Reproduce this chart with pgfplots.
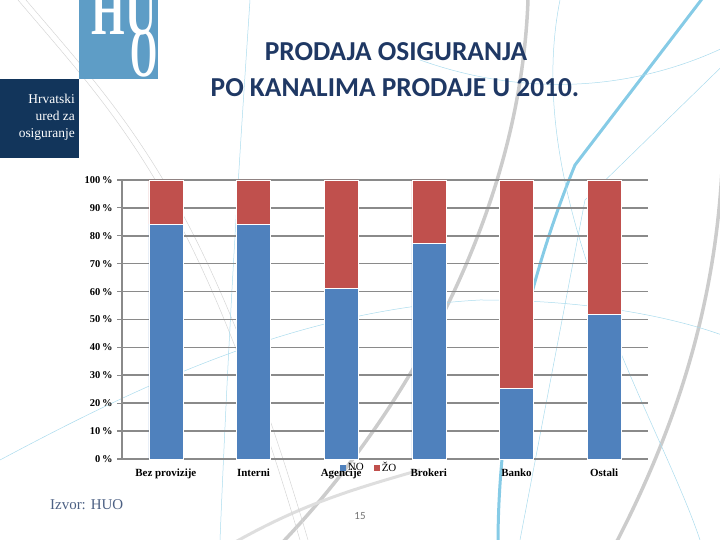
\documentclass[border=0pt]{standalone}
\usepackage{fontspec}
\setmainfont{Liberation Serif}
\newfontfamily\calibri{Carlito}
\usepackage{pgfplots}
\pgfplotsset{compat=1.18}

\definecolor{noblue}{HTML}{4F81BD}
\definecolor{zored}{HTML}{C0504D}
\definecolor{gridgray}{HTML}{8A8A8A}
\definecolor{titleblue}{HTML}{1F3864}
\definecolor{logolight}{HTML}{5E9DC6}
\definecolor{logonavy}{HTML}{12355B}
\definecolor{decoblue}{HTML}{86CBE6}

\begin{document}
\begin{tikzpicture}
\path[use as bounding box] (0,0) rectangle (720bp,540bp);
\clip (0,0) rectangle (720bp,540bp);

% background decoration, image coordinates (y downwards)
\begin{scope}[x=1bp,y=-1bp,shift={(0bp,540bp)}]
  \draw[black!20,line width=3.5bp] (280,545) .. controls (400,420) and (520,220) .. (528,0);
  \draw[black!20,line width=3.5bp] (615,545) .. controls (680,420) and (715,300) .. (722,170);
  \draw[black!13,line width=3bp] (230,545) .. controls (300,505) and (350,490) .. (420,470);
  \draw[decoblue,line width=3bp] (498,545) .. controls (498,430) and (520,300) .. (575,165) -- (705,-5);
  \draw[decoblue!70,line width=0.5bp] (560,0) .. controls (520,200) and (660,420) .. (700,540);
  \draw[decoblue!70,line width=0.5bp] (0,460) .. controls (150,380) and (300,310) .. (480,300) .. controls (600,300) and (680,320) .. (722,335);
  \draw[black!16,line width=0.5bp] (18,0) .. controls (120,120) and (200,200) .. (300,540);
  \draw[black!16,line width=0.5bp] (26,0) .. controls (128,120) and (208,200) .. (308,540);
  \draw[decoblue!70,line width=0.5bp] (790,0) -- (585,200) -- (520,540);
  \draw[decoblue!70,line width=0.5bp] (250,0) .. controls (240,150) and (230,300) .. (220,540);
  \draw[decoblue!70,line width=0.5bp] (800,0) .. controls (700,80) and (560,110) .. (420,60);

  % logo
  \fill[logolight] (79,0) rectangle (158,79);
  \begin{scope}
    \clip (79,0) rectangle (158,79);
    \node[white,anchor=base east,inner sep=0pt,font=\bfseries\fontsize{70}{70}\selectfont] at (157,35) {\scalebox{0.62}[1]{HU}};
    \node[white,anchor=base east,inner sep=0pt,font=\bfseries\fontsize{70}{70}\selectfont] at (158,77) {\scalebox{0.5}[1]{O}};
  \end{scope}
  \fill[logonavy] (0,79) rectangle (79,158);
  \node[white,anchor=base east,inner sep=0pt,font=\fontsize{13.5}{13.5}\selectfont] at (75,104) {Hrvatski};
  \node[white,anchor=base east,inner sep=0pt,font=\fontsize{13.5}{13.5}\selectfont] at (75,121) {ured za};
  \node[white,anchor=base east,inner sep=0pt,font=\fontsize{13.5}{13.5}\selectfont] at (75,138) {osiguranje};

  % title and footer
  \node[titleblue,anchor=base,inner sep=0pt,font=\calibri\bfseries\fontsize{27.5}{27.5}\selectfont] at (396,61) {PRODAJA OSIGURANJA};
  \node[titleblue,anchor=base,inner sep=0pt,font=\calibri\bfseries\fontsize{27.5}{27.5}\selectfont] at (395,97) {PO KANALIMA PRODAJE U 2010.};
  \node[titleblue!80,anchor=base west,inner sep=0pt,font=\fontsize{15}{15}\selectfont] at (50,510) {Izvor: HUO};
  \node[black!55,anchor=base,inner sep=0pt,font=\calibri\fontsize{11}{11}\selectfont] at (360,520) {15};
\end{scope}

\begin{axis}[
  at={(122bp,81bp)}, anchor=south west,
  scale only axis, width=526bp, height=279bp,
  ybar stacked, bar width=34bp,
  xmin=-0.5, xmax=5.5, ymin=0, ymax=100,
  xtick={0,...,5},
  xticklabels={Bez provizije,Interni,Agencije,Brokeri,Banko,Ostali},
  major x tick style={draw=none},
  extra x ticks={-0.5,0.5,1.5,2.5,3.5,4.5,5.5},
  extra x tick labels={},
  extra x tick style={major tick length=5bp, tick align=outside, tick style={draw=gridgray,line width=1.2bp}, grid=none},
  ytick={0,10,...,100},
  yticklabel={\pgfmathprintnumber{\tick}\,\%},
  ymajorgrids, grid style={gridgray,line width=1.6bp},
  axis x line*=bottom, axis y line*=left,
  axis line style={gridgray,line width=1.6bp,-},
  y tick style={gridgray,line width=1.2bp},
  major tick length=5bp, tick align=outside,
  yticklabel style={font=\bfseries\fontsize{10.5}{10.5}\selectfont, xshift=-1bp},
  xticklabel style={font=\bfseries\fontsize{11}{11}\selectfont, yshift=-1bp},
  /pgf/number format/assume math mode=true,
  legend columns=2,
  legend style={at={(rel axis cs:0.414,-0.032)}, anchor=west, draw=none, fill=none,
    font=\fontsize{11}{11}\selectfont, inner sep=0pt,
    /tikz/every even column/.append style={column sep=8bp}},
  legend image code/.code={\fill[#1,draw=none] (0bp,-3bp) rectangle (6bp,3bp);},
  clip=false,
]
\addplot[fill=noblue,draw=white,line width=0.5bp] coordinates {(0,84.2) (1,84.0) (2,61.2) (3,77.4) (4,25.3) (5,51.9)};
\addplot[fill=zored,draw=white,line width=0.5bp] coordinates {(0,15.8) (1,16.0) (2,38.8) (3,22.6) (4,74.7) (5,48.1)};
\legend{NO,ŽO}
\end{axis}
\end{tikzpicture}
\end{document}
